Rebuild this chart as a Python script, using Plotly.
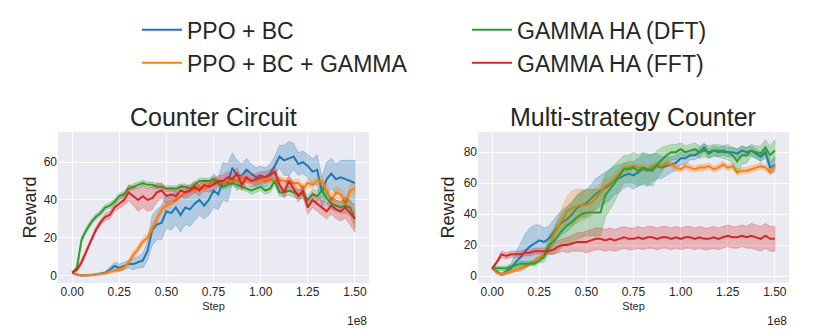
import plotly.graph_objects as go

# training step, in units of 1e8
STEP = [0.0, 0.025, 0.05, 0.075, 0.1, 0.125, 0.15, 0.175, 0.2, 0.225,
        0.25, 0.275, 0.3, 0.325, 0.35, 0.375, 0.4, 0.425, 0.45, 0.475,
        0.5, 0.525, 0.55, 0.575, 0.6, 0.625, 0.65, 0.675, 0.7, 0.725,
        0.75, 0.775, 0.8, 0.825, 0.85, 0.875, 0.9, 0.925, 0.95, 0.975,
        1.0, 1.025, 1.05, 1.075, 1.1, 1.125, 1.15, 1.175, 1.2, 1.225,
        1.25, 1.275, 1.3, 1.325, 1.35, 1.375, 1.4, 1.425, 1.45, 1.475, 1.5]

NAMES = ["PPO + BC", "PPO + BC + GAMMA", "GAMMA HA (DFT)", "GAMMA HA (FFT)"]
COLORS = ["#1f77b4", "#ff7f0e", "#2ca02c", "#d62728"]
TITLES = ["Counter Circuit", "Multi-strategy Counter"]

# ---- Counter Circuit: mean reward and band half-width
cc_ppo_bc = [1.5, 0.5, 0, 0, 0.2, 0.5, 1, 1.5, 3, 5,
             4, 5, 6, 6, 7, 8, 13, 24, 27, 28,
             34, 33, 36, 32, 36, 35, 38, 40, 37, 40,
             45, 43, 50, 49, 57, 53, 53, 56, 54, 52,
             53, 52, 54, 58, 63, 61, 62, 63, 59, 60,
             58, 55, 56, 44, 51, 54, 51, 52, 51, 50, 49]
cc_ppo_bc_sd = [0.5, 0.5, 0.5, 0.5, 0.5, 0.5, 0.5, 0.5, 1.5, 2,
                2, 2, 2, 3, 3, 4, 5, 8, 8, 9,
                9, 9, 9, 9, 9, 9, 9, 8, 7, 8,
                9, 8, 10, 10, 8, 8, 6, 6, 5, 5,
                5, 5, 5, 5, 6, 8, 9, 7, 6, 6,
                6, 7, 8, 8, 9, 8, 8, 9, 10, 11, 12]
cc_gamma = [1.5, 0.3, 0, 0, 0.2, 0.5, 0.8, 1, 2, 2.5,
            3, 4, 7, 11, 14, 18, 20, 25, 30, 35,
            37, 38, 40, 42, 44, 45, 45, 47, 46, 48,
            49, 50, 49, 50, 51, 50, 52, 51, 50, 50,
            51, 50, 51, 50, 51, 50, 50, 49, 49, 46,
            49, 48, 50, 50, 45, 40, 44, 43, 38, 45, 46]
cc_gamma_sd = [0.5, 0.3, 0.3, 0.3, 0.3, 0.3, 0.4, 0.5, 0.8, 1,
               1, 1.2, 1.5, 2, 2, 2, 2, 2, 2, 2,
               2, 1.5, 1.5, 1.5, 1.5, 1.5, 1.5, 1.5, 1.5, 1.5,
               1.5, 1.5, 1.5, 1.5, 1.5, 1.5, 1.5, 1.5, 1.5, 1.5,
               1.5, 1.5, 1.5, 1.5, 1.5, 1.5, 1.5, 1.5, 2, 2,
               2, 2, 2, 2, 3, 3, 3, 3, 3, 3, 3]
cc_dft = [1.5, 4, 19, 24, 28, 31, 33, 36, 37, 39,
          42, 43, 46, 47, 48, 49, 48, 48, 47, 47,
          46, 46, 46, 47, 47, 46, 48, 50, 50, 50,
          51, 49, 47, 48, 49, 48, 47, 46, 45, 46,
          47, 45, 46, 50, 44, 44, 45, 44, 43, 43,
          40, 43, 42, 45, 41, 38, 37, 36, 37, 36, 30]
cc_dft_sd = [0.5, 1, 1.5, 1.5, 1.5, 1.5, 1.5, 1.5, 1.5, 1.5,
             1.5, 1.5, 1.5, 1.5, 1.5, 1.5, 1.5, 1.5, 1.5, 1.5,
             1.5, 1.5, 1.5, 1.5, 1.5, 1.5, 1.5, 1.5, 1.5, 1.5,
             1.5, 1.5, 1.5, 1.5, 1.5, 1.5, 1.5, 1.5, 2, 2,
             2, 2, 2, 2, 2, 2, 2.5, 2.5, 2.5, 2.5,
             2.5, 2.5, 3, 3, 3, 3, 3, 3, 4, 4, 5]
cc_fft = [1.5, 3, 7, 13, 19, 24, 28, 31, 32, 36,
          38, 40, 44, 42, 40, 42, 40, 41, 44, 45,
          42, 43, 42, 45, 44, 45, 47, 45, 48, 47,
          48, 50, 50, 52, 51, 54, 48, 52, 50, 51,
          52, 52, 53, 55, 48, 44, 50, 46, 42, 45,
          36, 40, 38, 36, 34, 37, 35, 34, 36, 33, 30]
cc_fft_sd = [0.5, 1, 1.5, 1.5, 1.5, 1.5, 1.5, 2, 2, 2,
             2.5, 3, 4, 5, 6, 6, 6, 6, 5, 4,
             4, 3.5, 3, 3, 3, 3, 3, 3, 3, 3,
             3, 3, 3, 3, 3, 3, 3, 3, 3, 3,
             3, 3, 3, 3, 3, 3, 3, 3, 3, 3,
             3.5, 4, 4, 4, 4, 4.5, 5, 5, 5.5, 6, 7]

# ---- Multi-strategy Counter
ms_ppo_bc = [5, 3, 1, 3, 5, 9, 12, 16, 19, 21,
             23, 22, 24, 28, 32, 35, 37, 40, 44, 46,
             47, 50, 53, 55, 57, 59, 62, 63, 65, 66,
             65, 67, 69, 68, 70, 71, 70, 71, 72, 73,
             76, 76, 78, 78, 80, 83, 79, 81, 80, 81,
             80, 80, 79, 81, 80, 81, 79, 77, 80, 70, 72]
ms_ppo_bc_sd = [0.5, 0.8, 1, 2, 3, 6, 9, 11, 12, 12,
                10, 9, 8, 8, 8, 8, 8, 8, 8, 8,
                9, 9, 10, 10, 10, 10, 9, 9, 8, 8,
                9, 9, 10, 10, 9, 8, 7, 6, 5, 5,
                4, 4, 3, 3, 3, 3, 3, 3, 3, 3,
                3, 3, 3, 3, 3, 3, 3, 3, 4, 4, 5]
ms_gamma = [5, 2, 1, 2, 3, 4, 5, 6, 8, 10,
            12, 13, 17, 26, 32, 37, 42, 44, 45, 46,
            46, 47, 50, 54, 58, 60, 63, 66, 70, 70,
            71, 70, 70, 69, 71, 72, 71, 73, 72, 70,
            69, 71, 70, 69, 70, 70, 71, 69, 70, 72,
            70, 71, 67, 68, 68, 69, 70, 71, 70, 67, 71]
ms_gamma_sd = [0.5, 1, 1, 1, 1, 1, 1, 1, 1, 1,
               1, 1, 2, 4, 6, 8, 10, 11, 11, 10,
               9, 8, 7, 6, 5, 4, 4, 3, 3, 2,
               2, 2, 2, 2, 2, 2, 2, 2, 2, 2,
               2, 2, 2, 2, 2, 2, 2, 2, 2, 2,
               2, 2, 2, 2, 2, 2, 2, 2, 2, 2, 2]
ms_dft = [5, 5, 5, 5, 6, 7, 8, 8, 8, 8,
          10, 12, 20, 22, 26, 30, 33, 35, 38, 40,
          41, 41, 41, 41, 52, 56, 60, 65, 69, 69,
          70, 68, 70, 69, 68, 72, 75, 78, 80, 80,
          82, 80, 81, 82, 80, 81, 80, 81, 81, 80,
          80, 78, 74, 78, 78, 81, 80, 79, 83, 78, 81]
ms_dft_sd = [1, 1.5, 1.5, 1.5, 1.5, 1.5, 1.5, 1.5, 1.5, 1.5,
             1.5, 3, 6, 8, 10, 11, 12, 13, 14, 15,
             15, 15, 15, 15, 14, 13, 12, 10, 9, 9,
             10, 10, 10, 10, 10, 9, 8, 6, 5, 5,
             4, 4, 4, 4, 4, 4, 4, 4, 4, 4,
             5, 5, 8, 6, 5, 4, 4, 5, 5, 6, 7]
ms_fft = [5, 9, 14, 13, 14, 14, 14, 15, 15, 16,
          16, 16, 16, 17, 19, 20, 20, 21, 22, 22,
          22, 23, 24, 24, 23, 24, 23, 24, 25, 24,
          24, 25, 24, 25, 25, 24, 25, 25, 24, 25,
          24, 25, 25, 24, 25, 24, 24, 25, 24, 25,
          26, 25, 25, 26, 25, 26, 25, 24, 26, 24, 24]
ms_fft_sd = [0.5, 1, 2, 2, 2, 2, 2, 2, 2, 2,
             2, 2, 2, 3, 4, 4, 5, 5, 6, 6,
             7, 7, 7, 7, 7, 7, 7, 7, 7, 7,
             7, 7, 7, 7, 7, 7, 7, 7, 7, 7,
             7, 7, 7, 7, 7, 7, 7, 7, 7, 7,
             7, 7, 7, 7, 7, 8, 8, 8, 8, 8, 8]

PANELS = [
    [(cc_ppo_bc, cc_ppo_bc_sd), (cc_gamma, cc_gamma_sd), (cc_dft, cc_dft_sd), (cc_fft, cc_fft_sd)],
    [(ms_ppo_bc, ms_ppo_bc_sd), (ms_gamma, ms_gamma_sd), (ms_dft, ms_dft_sd), (ms_fft, ms_fft_sd)],
]


def rgba(hex_color, a):
    h = hex_color.lstrip("#")
    r, g, b = int(h[0:2], 16), int(h[2:4], 16), int(h[4:6], 16)
    return f"rgba({r},{g},{b},{a})"


FONT = "Liberation Sans, Arial, sans-serif"
INK = "#262626"

fig = go.Figure()

for p, series in enumerate(PANELS):
    xa = "x" if p == 0 else "x2"
    ya = "y" if p == 0 else "y2"
    for i, (mean, sd) in enumerate(series):
        upper = [m + s for m, s in zip(mean, sd)]
        lower = [m - s for m, s in zip(mean, sd)]
        fig.add_trace(go.Scatter(
            x=STEP + STEP[::-1], y=upper + lower[::-1],
            fill="toself", fillcolor=rgba(COLORS[i], 0.28),
            line=dict(color=rgba(COLORS[i], 0.35), width=0.8),
            hoverinfo="skip", showlegend=False, xaxis=xa, yaxis=ya))
        fig.add_trace(go.Scatter(
            x=STEP, y=mean, mode="lines", name=NAMES[i],
            line=dict(color=COLORS[i], width=2),
            legend="legend" if i < 2 else "legend2",
            legendgroup=NAMES[i],
            showlegend=(p == 0), xaxis=xa, yaxis=ya))

axis_common = dict(
    showgrid=True, gridcolor="white", gridwidth=1.3, zeroline=False,
    showline=False, ticks="", tickfont=dict(family=FONT, size=12, color=INK),
)
xticks = [0, 0.25, 0.5, 0.75, 1.0, 1.25, 1.5]
legend_style = dict(font=dict(family=FONT, size=23, color=INK),
                    bgcolor="rgba(0,0,0,0)", tracegroupgap=0, itemwidth=40,
                    yanchor="top", xanchor="left")

fig.update_layout(
    width=830, height=332,
    margin=dict(l=0, r=0, t=0, b=0),
    paper_bgcolor="white", plot_bgcolor="#EAEAF2",
    font=dict(family=FONT, color=INK),
    xaxis=dict(domain=[0.0699, 0.4446], range=[-0.075, 1.575], anchor="y",
               tickvals=xticks, tickformat=".2f",
               title=dict(text="Step", font=dict(size=11), standoff=4), **axis_common),
    yaxis=dict(domain=[0.1476, 0.6024], range=[-4, 76], anchor="x",
               tickvals=[0, 20, 40, 60],
               title=dict(text="Reward", font=dict(size=18), standoff=2), **axis_common),
    xaxis2=dict(domain=[0.5759, 0.9506], range=[-0.075, 1.575], anchor="y2",
                tickvals=xticks, tickformat=".2f",
                title=dict(text="Step", font=dict(size=11), standoff=4), **axis_common),
    yaxis2=dict(domain=[0.1476, 0.6024], range=[-4.5, 93], anchor="x2",
                tickvals=[0, 20, 40, 60, 80],
                title=dict(text="Reward", font=dict(size=18), standoff=4), **axis_common),
    legend=dict(x=0.165, y=0.975, **legend_style),
    legend2=dict(x=0.5627, y=0.975, **legend_style),
    showlegend=True,
)

fig.add_annotation(text=TITLES[0], xref="paper", yref="paper", x=0.2573, y=0.599,
                   xanchor="center", yanchor="bottom", showarrow=False,
                   font=dict(family=FONT, size=25, color=INK))
fig.add_annotation(text=TITLES[1], xref="paper", yref="paper", x=0.7632, y=0.599,
                   xanchor="center", yanchor="bottom", showarrow=False,
                   font=dict(family=FONT, size=25, color=INK))
for xr in (0.4446, 0.9506):
    fig.add_annotation(text="1e8", xref="paper", yref="paper", x=xr, y=0.006,
                       xanchor="right", yanchor="bottom", showarrow=False,
                       font=dict(family=FONT, size=12, color=INK))

# drop the page's default body margin so the 830x332 figure fills the window
fig.write_html("out.html", config={"displayModeBar": False},
               post_script="document.body.style.margin='0';")
